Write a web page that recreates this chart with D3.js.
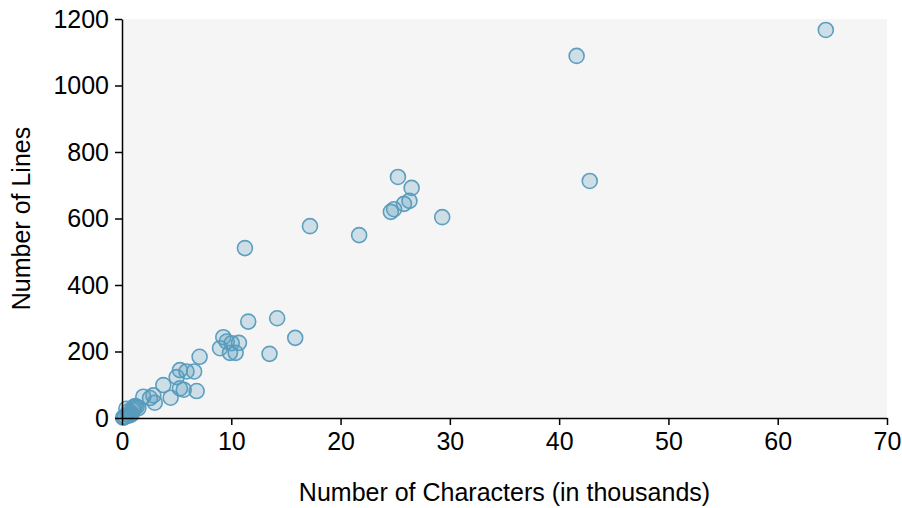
<!DOCTYPE html>
<html>
<head>
<meta charset="utf-8">
<script src="https://cdn.jsdelivr.net/npm/d3@7"></script>
<style>
  body { margin: 0; background: #fff; }
  text { font-family: "Liberation Sans", Arial, sans-serif; }
</style>
</head>
<body>
<div id="chart"></div>
<script>
// characters (thousands) and lines for each point
const chars = [64.4, 41.6, 42.8, 25.25, 26.5, 26.3, 25.8, 24.9, 24.6, 29.3,
  21.7, 17.2, 11.25, 11.55, 14.2, 15.85, 13.5, 9.27, 9.58, 8.97,
  10.04, 10.7, 9.88, 10.4, 7.1, 5.3, 5.9, 6.6, 5.0, 3.78,
  5.3, 5.65, 6.83, 4.45, 2.87, 2.56, 1.95, 3.0, 1.34, 1.04,
  0.3, 0.5, 0.6, 0.8, 1.0, 0.4, 1.2, 0.2, 0.7, 1.5, 0.9, 0.1];
const lines = [1167, 1089, 713, 725, 692, 653, 644, 628, 620, 604,
  550, 577, 511, 290, 300, 241, 193, 243, 230, 210,
  225, 226, 196, 196, 184, 144, 140, 140, 123, 99,
  89, 85, 81, 61, 68, 60, 64, 46, 34, 32,
  5, 10, 20, 15, 25, 28, 36, 2, 8, 30, 12, 1];

const xTicks = [0, 10, 20, 30, 40, 50, 60, 70];
const yTicks = [0, 200, 400, 600, 800, 1000, 1200];

const margin = { top: 19, right: 15, bottom: 90, left: 122 };
const svgWidth = 902;
const svgHeight = 508;
const width = svgWidth - margin.left - margin.right;
const height = svgHeight - margin.top - margin.bottom;
const fontSize = "25px";

const svg = d3.select("#chart")
  .append("svg")
  .attr("width", svgWidth)
  .attr("height", svgHeight)
  .append("g")
  .attr("transform", `translate(${margin.left}, ${margin.top})`);

const x = d3.scaleLinear().domain([0, 70]).range([0, width]);
const y = d3.scaleLinear().domain([0, 1200]).range([height, 0]);

// panel background
svg.append("rect")
  .attr("width", width)
  .attr("height", height)
  .attr("fill", "#f5f5f5");

// points
const points = chars.map((c, i) => ({ c: c, l: lines[i] }));
svg.selectAll("circle")
  .data(points)
  .enter()
  .append("circle")
  .attr("cx", d => x(d.c))
  .attr("cy", d => y(d.l))
  .attr("r", 7.5)
  .attr("fill", "rgba(86,155,189,0.25)")
  .attr("stroke", "#569bbd")
  .attr("stroke-opacity", 0.95)
  .attr("stroke-width", 1.6);

// x axis
const xAxis = svg.append("g")
  .attr("transform", `translate(0, ${height})`)
  .call(d3.axisBottom(x).tickValues(xTicks).tickFormat(d3.format("d"))
    .tickSize(7).tickSizeOuter(0).tickPadding(7));

// y axis
const yAxis = svg.append("g")
  .call(d3.axisLeft(y).tickValues(yTicks).tickFormat(d3.format("d"))
    .tickSize(7).tickSizeOuter(0).tickPadding(6));

[xAxis, yAxis].forEach(g => {
  g.selectAll("path, line").attr("stroke", "#000").attr("stroke-width", 1.5);
  g.selectAll("text")
    .attr("fill", "#000")
    .style("font-size", fontSize)
    .style("font-family", "'Liberation Sans', Arial, sans-serif");
});

svg.append("text")
  .attr("x", width / 2)
  .attr("y", height + 83)
  .attr("text-anchor", "middle")
  .style("font-size", fontSize)
  .text("Number of Characters (in thousands)");

svg.append("text")
  .attr("transform", "rotate(-90)")
  .attr("x", -height / 2)
  .attr("y", -92)
  .attr("text-anchor", "middle")
  .style("font-size", fontSize)
  .text("Number of Lines");
</script>
</body>
</html>
